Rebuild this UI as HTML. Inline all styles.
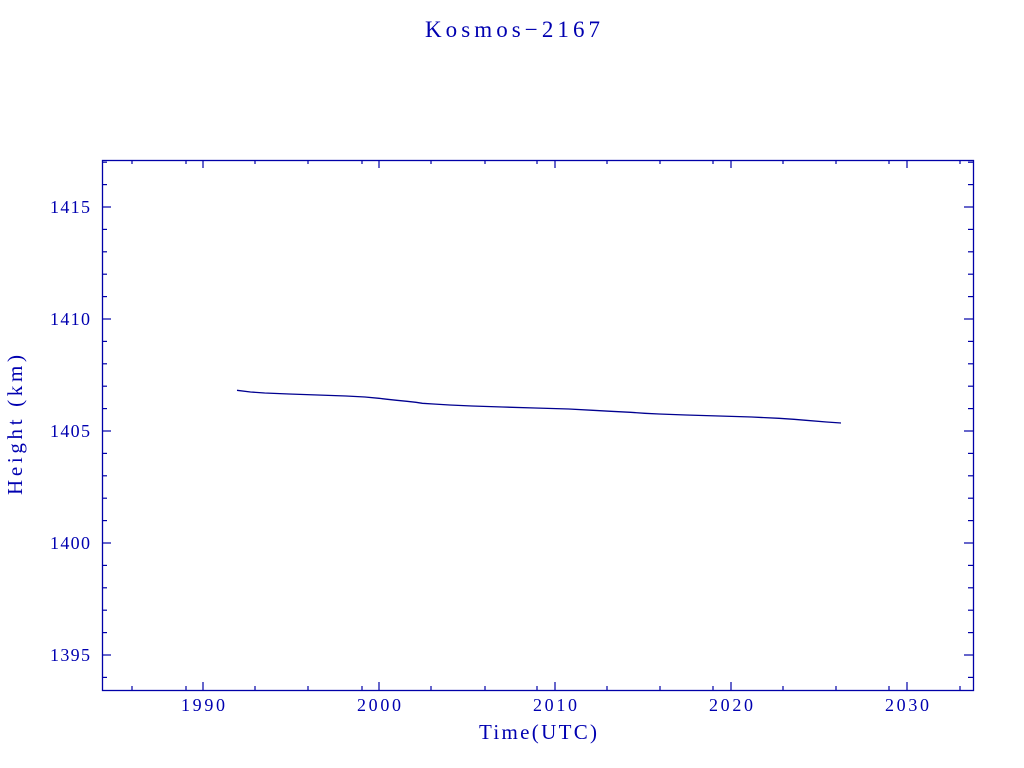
<!DOCTYPE html>
<html><head><meta charset="utf-8"><style>html,body{margin:0;padding:0;background:#fff}svg{display:block}</style></head>
<body>
<svg id="s" width="1024" height="768" viewBox="0 0 1024 768" xmlns="http://www.w3.org/2000/svg" font-family="Liberation Serif, serif" fill="#0000b0">
<text x="425" y="37" font-size="23" textLength="175" lengthAdjust="spacing">Kosmos−2167</text>
<rect x="102.5" y="160.5" width="871" height="530" fill="none" stroke="#0000a8" stroke-width="1.3"/>
<g id="t" stroke="#0000a8" stroke-width="1.2"></g>
<g font-size="18">
<text x="50" y="213" textLength="40" lengthAdjust="spacing">1415</text>
<text x="50" y="325" textLength="40" lengthAdjust="spacing">1410</text>
<text x="50" y="437" textLength="40" lengthAdjust="spacing">1405</text>
<text x="50" y="549" textLength="40" lengthAdjust="spacing">1400</text>
<text x="50" y="661" textLength="40" lengthAdjust="spacing">1395</text>
</g>
<g font-size="18">
<text x="181" y="711" textLength="44" lengthAdjust="spacing">1990</text>
<text x="357" y="711" textLength="44" lengthAdjust="spacing">2000</text>
<text x="533" y="711" textLength="44" lengthAdjust="spacing">2010</text>
<text x="709" y="711" textLength="44" lengthAdjust="spacing">2020</text>
<text x="885" y="711" textLength="44" lengthAdjust="spacing">2030</text>
</g>
<text x="479" y="739" font-size="21" textLength="118" lengthAdjust="spacing">Time(UTC)</text>
<text transform="translate(22,495) rotate(-90)" font-size="21" textLength="140" lengthAdjust="spacing">Height  (km)</text>
<polyline fill="none" stroke="#000090" stroke-width="1.3" points="237,390.3 250.5,392 264.7,393 289,394 317.6,395 346,396 365,397 379,398.3 387.5,399.3 396.8,400.3 407,401.3 416,402.3 422.4,403.3 433.4,404 449.7,405 472,406 502.5,407 535,408 568.8,409 593,410.3 611,411.3 630.6,412.3 644.8,413.3 659,414 686,415 719,416 751.7,417 779,418.3 794,419.3 806,420.3 826.5,422 841,423"/>
</svg>
<script>
var g=document.getElementById('t'),d='';
function L(a,b,c,e){d+='<line x1="'+a+'" y1="'+b+'" x2="'+c+'" y2="'+e+'"/>';}
[203,379,555,731,907].forEach(function(x){L(x,690,x,682);L(x,160,x,168);});
[132,186,255,308,362,431,485,537,607,660,713,783,836,889,960].forEach(function(x){L(x,690,x,686);L(x,160,x,164);});
for(var k=1394;k<=1417;k++){var y=431-(k-1405)*22.4;if(y<161||y>689)continue;var m=(k%5==0)?9:5;L(102,y,102+m,y);L(973,y,973-m,y);}
g.innerHTML=d;
</script>
</body></html>
